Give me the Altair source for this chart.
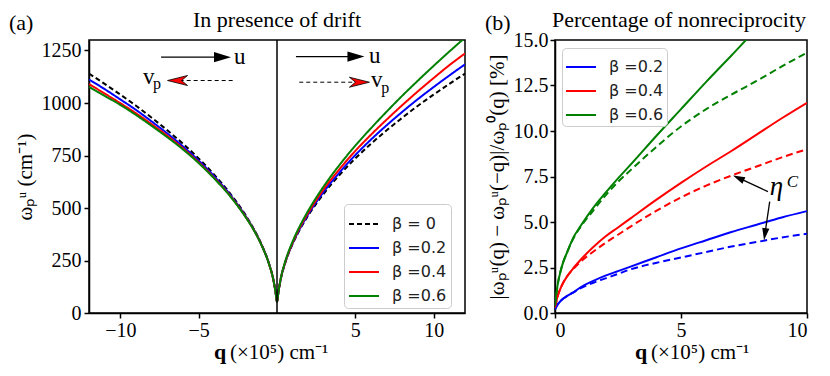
import altair as alt
import pandas as pd

# ---------------- Panel (a): dispersion with drift ----------------
q_pos = [0, 0.1, 0.25, 0.5, 1, 1.5, 2, 3, 4, 5, 6, 7, 8, 9, 10, 11, 12]
w_beta0 = [55, 104, 165, 233, 329, 403, 465, 570, 658, 736, 806, 870, 930, 987, 1040, 1091, 1140]
w_b02_right = [55, 104, 166, 234, 332, 407, 471, 579, 670, 752, 826, 894, 958, 1019, 1076, 1131, 1184]
w_b02_left = [55, 104, 165, 232, 327, 400, 461, 564, 650, 726, 793, 855, 912, 967, 1017, 1066, 1112]
w_b04_right = [55, 105, 167, 236, 335, 413, 478, 591, 686, 772, 849, 921, 990, 1056, 1119, 1180, 1236]
w_b04_left = [55, 104, 164, 231, 326, 398, 458, 559, 643, 718, 784, 844, 899, 951, 999, 1045, 1090]
w_b06_right = [55, 105, 168, 239, 341, 420, 488, 605, 706, 797, 880, 959, 1035, 1107, 1177, 1245, 1311]
w_b06_left = [55, 104, 164, 231, 325, 397, 456, 557, 640, 714, 779, 837, 891, 943, 991, 1034, 1077]

betas_a = ["β = 0", "β =0.2", "β =0.4", "β =0.6"]
colors_a = ["black", "#0000ff", "#ff0000", "#008000"]
dashes_a = [[5, 3], [1, 0], [1, 0], [1, 0]]

# ---------------- Panel (b): nonreciprocity ----------------
q_b = [0, 0.1, 0.25, 0.5, 0.75, 1, 1.5, 2, 2.5, 3, 4, 5, 6, 7, 8, 9, 10]
nr_b02_full = [0.2, 0.45, 0.7, 0.95, 1.15, 1.4, 1.75, 2.05, 2.3, 2.55, 3.05, 3.55, 4.0, 4.45, 4.85, 5.25, 5.6]
nr_b02_eta = [0.2, 0.45, 0.7, 0.95, 1.15, 1.35, 1.65, 1.9, 2.15, 2.4, 2.75, 3.05, 3.35, 3.65, 3.9, 4.15, 4.35]
nr_b04_full = [0.3, 0.9, 1.45, 2.05, 2.5, 2.9, 3.6, 4.2, 4.7, 5.2, 6.2, 7.15, 8.05, 8.9, 9.8, 10.7, 11.55]
nr_b04_eta = [0.3, 0.9, 1.45, 2.05, 2.45, 2.8, 3.35, 3.85, 4.3, 4.75, 5.6, 6.35, 7.0, 7.55, 8.05, 8.55, 9.0]
nr_b06_full = [0.4, 1.5, 2.45, 3.4, 4.2, 4.75, 5.75, 6.6, 7.4, 8.15, 9.7, 11.2, 12.7, 14.15, 15.6, 16.9, 18.2]
nr_b06_eta = [0.4, 1.5, 2.45, 3.4, 4.15, 4.7, 5.6, 6.45, 7.2, 7.85, 9.1, 10.25, 11.2, 12.0, 12.75, 13.55, 14.3]

betas_b = ["β =0.2", "β =0.4", "β =0.6"]
colors_b = ["#0000ff", "#ff0000", "#008000"]

SERIF = "Liberation Serif"

# ---- build tables ----
rows = []
def add_side(name, left, right):
    qs = [-v for v in reversed(q_pos[1:])] + q_pos
    ws = list(reversed(left[1:])) + right
    for q, w in zip(qs, ws):
        rows.append({"beta_a": name, "q": q, "w": w})

add_side(betas_a[0], w_beta0, w_beta0)
add_side(betas_a[1], w_b02_left, w_b02_right)
add_side(betas_a[2], w_b04_left, w_b04_right)
add_side(betas_a[3], w_b06_left, w_b06_right)
df_a = pd.DataFrame(rows)

rows_full, rows_eta = [], []
for name, col, full, eta in zip(betas_b, colors_b,
                                [nr_b02_full, nr_b04_full, nr_b06_full],
                                [nr_b02_eta, nr_b04_eta, nr_b06_eta]):
    for q, v1, v2 in zip(q_b, full, eta):
        rows_full.append({"beta_b": name, "q": q, "v": v1})
        rows_eta.append({"grp": name, "col": col, "q": q, "v": v2})
df_bf = pd.DataFrame(rows_full)
df_be = pd.DataFrame(rows_eta)


def label(txt, x, y, size, weight="normal", font=SERIF, align="left"):
    return alt.Chart(pd.DataFrame({"t": [txt]})).mark_text(
        font=font, fontSize=size, fontWeight=weight, align=align, baseline="alphabetic", color="black"
    ).encode(x=alt.value(x), y=alt.value(y), text="t:N")


AX = dict(labelFont=SERIF, labelFontSize=20, labelColor="black", titleFont=SERIF,
          titleFontWeight="normal", titleColor="black")

# ---------------- Panel (a) chart ----------------
xa = alt.X("q:Q", scale=alt.Scale(domain=[-12, 12], nice=False),
           axis=alt.Axis(values=[-10, -5, 5, 10], title=None, format="d", labelPadding=2, **AX))
ya = alt.Y("w:Q", scale=alt.Scale(domain=[0, 1300], nice=False),
           axis=alt.Axis(values=[0, 250, 500, 750, 1000, 1250], format="d", title="ωₚᵘ (cm⁻¹)",
                         titleFontSize=21, titlePadding=6, labelPadding=3, **AX))

leg_a = alt.Legend(title=None, orient="none", legendX=255, legendY=164,
                   symbolType="stroke", symbolStrokeWidth=2, symbolSize=900,
                   labelFont="DejaVu Sans", labelFontSize=16, labelColor="#222",
                   rowPadding=-6, padding=4, cornerRadius=4,
                   strokeColor="#cccccc", fillColor="white", labelOffset=12)

lines_a = alt.Chart(df_a).mark_line(clip=True, strokeWidth=2, interpolate="monotone").encode(
    x=xa, y=ya,
    color=alt.Color("beta_a:N", scale=alt.Scale(domain=betas_a, range=colors_a), legend=leg_a),
    strokeDash=alt.StrokeDash("beta_a:N", scale=alt.Scale(domain=betas_a, range=dashes_a), legend=leg_a),
)

vline = alt.Chart(pd.DataFrame({"q": [0]})).mark_rule(color="black", strokeWidth=1.5).encode(x="q:Q")

# arrows in panel (a)
u_lines = alt.Chart(pd.DataFrame({"x1": [-7.4, 1.21], "x2": [-3.5, 5.04], "y1": [1218, 1221]})).mark_rule(
    color="black", strokeWidth=1.3).encode(x="x1:Q", x2="x2:Q", y="y1:Q")
u_heads = alt.Chart(pd.DataFrame({"q": [-3.48, 5.04], "w": [1218, 1221]})).mark_point(
    shape="M 1 0 L -1 -0.6 L -1 0.6 Z", size=289, filled=True, color="black", opacity=1).encode(x="q:Q", y="w:Q")
v_lines = alt.Chart(pd.DataFrame({"x1": [-2.83, 1.42], "x2": [-6.35, 5.26], "y1": [1107, 1099]})).mark_rule(
    color="black", strokeWidth=1, strokeDash=[4, 3]).encode(x="x1:Q", x2="x2:Q", y="y1:Q")
vhead_shape_r = "M 1 0 L -1 -0.5 L -0.4 0 L -1 0.5 Z"
vhead_shape_l = "M -1 0 L 1 -0.5 L 0.4 0 L 1 0.5 Z"
v_head_l = alt.Chart(pd.DataFrame({"q": [-6.35], "w": [1107]})).mark_point(
    shape=vhead_shape_l, size=400, filled=True, fill="#ff0000", stroke="black", strokeWidth=0.8, opacity=1
).encode(x="q:Q", y="w:Q")
v_head_r = alt.Chart(pd.DataFrame({"q": [5.26], "w": [1099]})).mark_point(
    shape=vhead_shape_r, size=400, filled=True, fill="#ff0000", stroke="black", strokeWidth=0.8, opacity=1
).encode(x="q:Q", y="w:Q")

u_text = alt.Chart(pd.DataFrame({"q": [-2.75, 5.88], "w": [1186, 1191], "t": ["u", "u"]})).mark_text(
    font=SERIF, fontSize=23, align="left", baseline="alphabetic", color="black").encode(x="q:Q", y="w:Q", text="t:N")
v_text = alt.Chart(pd.DataFrame({"q": [-8.56, 6.0], "w": [1090, 1075], "t": ["v", "v"]})).mark_text(
    font=SERIF, fontSize=23, align="left", baseline="alphabetic", color="black").encode(x="q:Q", y="w:Q", text="t:N")
p_text = alt.Chart(pd.DataFrame({"q": [-7.92, 6.65], "w": [1065, 1046], "t": ["p", "p"]})).mark_text(
    font=SERIF, fontSize=16, align="left", baseline="alphabetic", color="black").encode(x="q:Q", y="w:Q", text="t:N")

panel_a = alt.layer(
    lines_a, vline, u_lines, u_heads, v_lines, v_head_l, v_head_r, u_text, v_text, p_text,
    label("q", 125, 319, 22, "bold"), label("(×10⁵) cm⁻¹", 141, 319, 21),
    label("(a)", -80, -10, 22),
    label("In presence of drift", 188, -13, 22, align="center"),
).properties(width=376, height=273)

# ---------------- Panel (b) chart ----------------
xb = alt.X("q:Q", scale=alt.Scale(domain=[0, 10], nice=False),
           axis=alt.Axis(values=[0, 5, 10], title=None, format="d", labelPadding=2, **AX))
yb = alt.Y("v:Q", scale=alt.Scale(domain=[0, 15], nice=False),
           axis=alt.Axis(values=[0, 2.5, 5, 7.5, 10, 12.5, 15], format=".1f",
                         title="|ωₚᵘ(q) − ωₚᵘ(−q)|/ωₚ⁰(q)  [%]", titleFontSize=21, titlePadding=6,
                         labelPadding=2, **AX))

leg_b = alt.Legend(title=None, orient="none", legendX=7, legendY=8,
                   symbolType="stroke", symbolStrokeWidth=2, symbolSize=900,
                   labelFont="DejaVu Sans", labelFontSize=16, labelColor="#222",
                   rowPadding=-8, padding=3, cornerRadius=4,
                   strokeColor="#cccccc", fillColor="white", labelOffset=12)

lines_bf = alt.Chart(df_bf).mark_line(clip=True, strokeWidth=2, interpolate="monotone").encode(
    x=xb, y=yb,
    color=alt.Color("beta_b:N", scale=alt.Scale(domain=betas_b, range=colors_b), legend=leg_b),
)
lines_be = alt.Chart(df_be).mark_line(clip=True, strokeWidth=2, strokeDash=[7, 4], interpolate="monotone").encode(
    x="q:Q", y="v:Q", color=alt.Color("col:N", scale=None), detail="grp:N",
)

eta_lines = alt.Chart(pd.DataFrame({"x1": [8.45, 8.52], "x2": [7.28, 8.33],
                                    "y1": [6.67, 6.12], "y2": [7.42, 4.33]})).mark_rule(
    color="black", strokeWidth=1.3).encode(x="x1:Q", x2="x2:Q", y="y1:Q", y2="y2:Q")
eta_head1 = alt.Chart(pd.DataFrame({"q": [7.28], "v": [7.42]})).mark_point(
    shape="M 1 0 L -1 -0.6 L -1 0.6 Z", size=144, filled=True, color="black", opacity=1, angle=204.6
).encode(x="q:Q", y="v:Q")
eta_head2 = alt.Chart(pd.DataFrame({"q": [8.33], "v": [4.33]})).mark_point(
    shape="M 1 0 L -1 -0.6 L -1 0.6 Z", size=144, filled=True, color="black", opacity=1, angle=98.5
).encode(x="q:Q", y="v:Q")
eta_text = alt.Chart(pd.DataFrame({"q": [8.79], "v": [6.5], "t": ["η"]})).mark_text(
    font=SERIF, fontSize=27, fontStyle="italic", align="center", baseline="alphabetic", color="black"
).encode(x="q:Q", y="v:Q", text="t:N")
c_text = alt.Chart(pd.DataFrame({"q": [9.2], "v": [6.95], "t": ["C"]})).mark_text(
    font=SERIF, fontSize=17, fontStyle="italic", align="left", baseline="alphabetic", color="black"
).encode(x="q:Q", y="v:Q", text="t:N")

panel_b = alt.layer(
    lines_bf, lines_be, eta_lines, eta_head1, eta_head2, eta_text, c_text,
    label("q", 80, 319, 22, "bold"), label("(×10⁵) cm⁻¹", 96, 319, 21),
    label("(b)", -70, -10, 22),
    label("Percentage of nonreciprocity", 124, -13, 22, align="center"),
).properties(width=252, height=273)

chart = alt.hconcat(panel_a, panel_b, spacing=18).resolve_scale(
    color="independent", strokeDash="independent"
).resolve_legend(
    color="independent", strokeDash="independent"
).properties(
    padding={"left": 0, "top": 0, "right": 0, "bottom": 0}
).configure_view(
    stroke="black", strokeWidth=1.5
).configure_axis(
    grid=False, domainColor="black", domainWidth=1.5, tickColor="black", tickWidth=1.5,
    tickSize=5
)

chart.save("out.html", embed_options={"renderer": "svg", "actions": False})
